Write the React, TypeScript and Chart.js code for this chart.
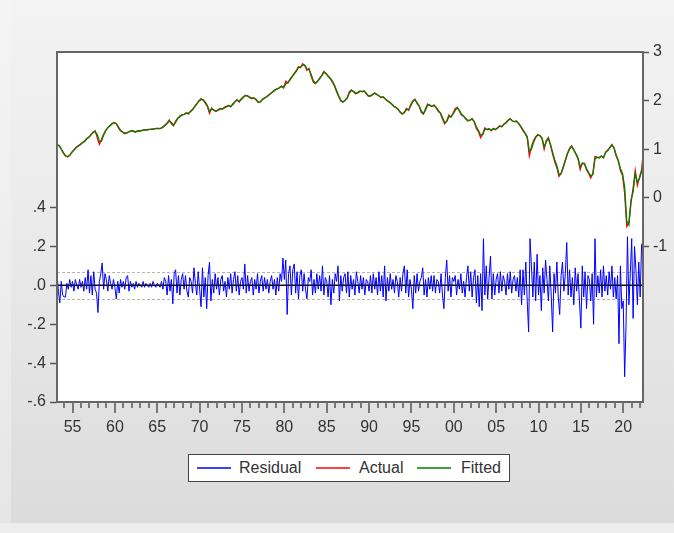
import React, { useEffect, useRef } from "react";
import { Chart, registerables } from "chart.js";

Chart.register(...registerables);

// ---- time axis ----
const X_MIN = 1953.1667;
const X_MAX = 2022.3333;
const ACTUAL_START = 1953.1667;
const ACTUAL_STEP = 0.25;
const RESID_START = 1953.1667;
const RESID_STEP = 1 / 6;

const YEAR_TICKS = [
  1954, 1955, 1956, 1957, 1958, 1959, 1960, 1961, 1962, 1963, 1964, 1965, 1966, 1967, 1968, 1969,
  1970, 1971, 1972, 1973, 1974, 1975, 1976, 1977, 1978, 1979, 1980, 1981, 1982, 1983, 1984, 1985,
  1986, 1987, 1988, 1989, 1990, 1991, 1992, 1993, 1994, 1995, 1996, 1997, 1998, 1999, 2000, 2001,
  2002, 2003, 2004, 2005, 2006, 2007, 2008, 2009, 2010, 2011, 2012, 2013, 2014, 2015, 2016, 2017,
  2018, 2019, 2020, 2021, 2022,
];
const LABEL_YEARS = [1955, 1960, 1965, 1970, 1975, 1980, 1985, 1990, 1995, 2000, 2005, 2010, 2015, 2020];
const X_LABELS = ["55", "60", "65", "70", "75", "80", "85", "90", "95", "00", "05", "10", "15", "20"];

// ---- value axes ----
const LEFT_MIN = -0.6;
const LEFT_MAX = 1.2;
const LEFT_TICKS = [-0.6, -0.4, -0.2, 0, 0.2, 0.4];
const LEFT_LABELS = ["-.6", "-.4", "-.2", ".0", ".2", ".4"];
const RIGHT_MIN = -4.2;
const RIGHT_MAX = 3;
const RIGHT_TICKS = [-1, 0, 1, 2, 3];
const RIGHT_LABELS = ["-1", "0", "1", "2", "3"];
const SE_BAND = 0.068;

// ---- series (quarterly actual / fitted, right axis) ----
const ACTUAL = [
  1.10, 1.07, 1.00, 0.92,
  0.86, 0.84, 0.88, 0.94,
  0.99, 1.03, 1.07, 1.10,
  1.13, 1.17, 1.21, 1.25,
  1.29, 1.34, 1.38, 1.24,
  1.10, 1.20, 1.31, 1.39,
  1.44, 1.49, 1.52, 1.55,
  1.52, 1.44, 1.38, 1.35,
  1.32, 1.34, 1.36, 1.38,
  1.37, 1.35, 1.38, 1.37,
  1.39, 1.40, 1.39, 1.41,
  1.41, 1.42, 1.42, 1.43,
  1.42, 1.43, 1.46, 1.50,
  1.54, 1.60, 1.52, 1.48,
  1.58, 1.64, 1.68, 1.70,
  1.72, 1.75, 1.72, 1.78,
  1.82, 1.88, 1.94, 2.00,
  2.04, 2.01, 1.95, 1.88,
  1.74, 1.85, 1.80, 1.78,
  1.81, 1.84, 1.82, 1.86,
  1.88, 1.90, 1.87, 1.93,
  1.98, 2.02, 1.97, 2.04,
  2.08, 2.11, 2.09, 2.06,
  2.04, 2.06, 2.01, 1.96,
  1.98, 2.03, 2.06, 2.08,
  2.12, 2.15, 2.19, 2.22,
  2.24, 2.27, 2.30, 2.26,
  2.40, 2.36, 2.44, 2.50,
  2.56, 2.62, 2.70, 2.68,
  2.76, 2.72, 2.62, 2.66,
  2.50, 2.38, 2.35, 2.40,
  2.46, 2.52, 2.60, 2.55,
  2.50, 2.45, 2.38, 2.30,
  2.18, 2.08, 1.99, 1.97,
  2.01, 2.06, 2.18, 2.22,
  2.18, 2.14, 2.17, 2.20,
  2.18, 2.20, 2.14, 2.09,
  2.10, 2.13, 2.16, 2.12,
  2.10, 2.06, 2.08, 2.03,
  1.99, 1.96, 1.93, 1.88,
  1.86, 1.82, 1.76, 1.72,
  1.76, 1.84, 1.80, 1.92,
  2.00, 2.03, 1.94, 1.88,
  1.76, 1.72, 1.84, 1.93,
  1.90, 1.88, 1.91, 1.85,
  1.78, 1.74, 1.62, 1.52,
  1.58, 1.70, 1.66, 1.74,
  1.84, 1.86, 1.78, 1.70,
  1.68, 1.62, 1.58, 1.60,
  1.63, 1.56, 1.42, 1.36,
  1.24, 1.32, 1.44, 1.40,
  1.42, 1.38, 1.43, 1.40,
  1.44, 1.48, 1.46, 1.52,
  1.55, 1.60, 1.63, 1.58,
  1.57, 1.58, 1.52, 1.46,
  1.38, 1.32, 1.24, 0.86,
  1.05, 1.18, 1.26, 1.30,
  1.28, 1.22, 1.00, 1.18,
  1.24, 1.08, 0.90, 0.74,
  0.62, 0.44, 0.50, 0.64,
  0.78, 0.92, 1.02, 1.07,
  0.98, 0.90, 0.80, 0.58,
  0.72, 0.70, 0.58, 0.50,
  0.41, 0.50, 0.85, 0.84,
  0.82, 0.86, 0.82, 0.94,
  0.98, 1.04, 1.10, 1.02,
  0.86, 0.76, 0.56, 0.46,
  0.10, -0.59, -0.52, -0.10,
  0.20, 0.56, 0.26, 0.42,
  0.58, 1.02,
];

const FITTED = [
  1.08, 1.08, 1.01, 0.93,
  0.87, 0.85, 0.87, 0.93,
  0.98, 1.04, 1.06, 1.09,
  1.14, 1.16, 1.22, 1.24,
  1.30, 1.35, 1.36, 1.30,
  1.16, 1.16, 1.29, 1.38,
  1.45, 1.48, 1.53, 1.54,
  1.53, 1.46, 1.39, 1.35,
  1.33, 1.33, 1.36, 1.37,
  1.38, 1.35, 1.37, 1.38,
  1.38, 1.40, 1.40, 1.40,
  1.41, 1.41, 1.42, 1.43,
  1.43, 1.43, 1.45, 1.49,
  1.53, 1.58, 1.55, 1.50,
  1.55, 1.63, 1.67, 1.71,
  1.71, 1.74, 1.74, 1.77,
  1.81, 1.87, 1.93, 1.99,
  2.02, 2.02, 1.97, 1.90,
  1.78, 1.82, 1.81, 1.78,
  1.80, 1.83, 1.83, 1.85,
  1.87, 1.90, 1.88, 1.92,
  1.97, 2.01, 1.99, 2.02,
  2.07, 2.10, 2.10, 2.07,
  2.05, 2.05, 2.03, 1.97,
  1.97, 2.02, 2.05, 2.08,
  2.11, 2.15, 2.18, 2.22,
  2.24, 2.26, 2.29, 2.28,
  2.34, 2.38, 2.42, 2.49,
  2.55, 2.60, 2.68, 2.69,
  2.73, 2.73, 2.65, 2.64,
  2.54, 2.41, 2.36, 2.39,
  2.45, 2.51, 2.58, 2.56,
  2.51, 2.46, 2.40, 2.32,
  2.21, 2.10, 2.01, 1.97,
  2.00, 2.05, 2.15, 2.21,
  2.19, 2.15, 2.16, 2.19,
  2.19, 2.19, 2.15, 2.10,
  2.09, 2.12, 2.15, 2.13,
  2.10, 2.07, 2.07, 2.04,
  2.00, 1.97, 1.93, 1.89,
  1.86, 1.83, 1.77, 1.73,
  1.75, 1.82, 1.81, 1.89,
  1.98, 2.02, 1.96, 1.89,
  1.79, 1.73, 1.81, 1.91,
  1.91, 1.88, 1.90, 1.86,
  1.80, 1.75, 1.65, 1.55,
  1.57, 1.67, 1.67, 1.72,
  1.80, 1.85, 1.80, 1.72,
  1.68, 1.63, 1.59, 1.60,
  1.62, 1.57, 1.46, 1.38,
  1.29, 1.30, 1.41, 1.41,
  1.42, 1.39, 1.42, 1.41,
  1.43, 1.47, 1.47, 1.51,
  1.54, 1.59, 1.62, 1.58,
  1.57, 1.57, 1.53, 1.47,
  1.40, 1.33, 1.26, 0.96,
  1.00, 1.14, 1.24, 1.29,
  1.28, 1.23, 1.05, 1.15,
  1.22, 1.10, 0.94, 0.78,
  0.66, 0.48, 0.50, 0.62,
  0.76, 0.90, 1.00, 1.06,
  0.99, 0.91, 0.82, 0.64,
  0.70, 0.71, 0.60, 0.52,
  0.45, 0.48, 0.80, 0.83,
  0.83, 0.86, 0.83, 0.93,
  0.97, 1.03, 1.08, 1.03,
  0.88, 0.77, 0.60, 0.50,
  0.22, -0.48, -0.56, -0.04,
  0.12, 0.50, 0.32, 0.40,
  0.54, 0.84,
];

// ---- residual (bi-monthly, left axis) ----
const RESIDUAL = [
  0.06, -0.03, -0.09, 0.02, -0.05, -0.06,
  -0.06, 0.01, -0.02, 0.03, -0.01, 0.02,
  -0.03, 0.03, 0.00, -0.02, 0.03, -0.01,
  0.02, -0.03, 0.04, -0.02, 0.08, -0.04,
  0.05, -0.05, 0.07, -0.02, -0.04, -0.14,
  0.02, 0.06, 0.115, -0.02, 0.06, 0.03,
  -0.03, 0.05, 0.01, -0.02, 0.03, -0.01,
  -0.07, 0.02, -0.04, 0.03, -0.01, 0.02,
  -0.02, 0.04, 0.05, -0.03, 0.02, -0.01,
  0.01, -0.02, 0.02, -0.01, 0.01, 0.00,
  -0.01, 0.02, -0.01, 0.01, 0.00, -0.01,
  0.01, -0.01, 0.02, 0.00, -0.01, 0.01,
  0.00, -0.01, 0.02, -0.02, 0.04, 0.02,
  -0.05, 0.05, -0.03, 0.03, -0.095, 0.06,
  0.08, -0.04, 0.05, -0.05, 0.03, 0.06,
  -0.02, 0.05, -0.03, -0.06, 0.04, 0.02,
  -0.04, 0.09, 0.01, -0.05, 0.07, -0.02,
  -0.11, 0.09, -0.06, 0.04, -0.12, 0.05,
  0.12, -0.08, 0.03, -0.04, 0.06, -0.02,
  0.04, -0.05, 0.03, 0.05, -0.03, 0.02,
  -0.06, 0.04, -0.02, 0.06, -0.04, 0.03,
  0.07, -0.03, 0.05, -0.05, 0.02, 0.04,
  -0.02, 0.11, -0.04, 0.05, -0.03, 0.02,
  0.04, -0.05, 0.03, -0.02, 0.06, -0.04,
  0.02, 0.05, -0.03, 0.04, -0.02, 0.03,
  -0.04, 0.02, 0.05, -0.02, 0.03, -0.05,
  0.04, -0.03, 0.06, 0.02, 0.14, 0.03,
  0.13, -0.15, 0.06, 0.10, -0.05, 0.08,
  0.11, -0.04, 0.07, -0.07, 0.05, 0.08,
  -0.03, 0.06, -0.02, -0.07, 0.04, 0.02,
  0.08, -0.05, 0.03, -0.04, 0.06, -0.02,
  0.05, -0.03, 0.10, -0.05, 0.04, 0.02,
  -0.06, 0.05, -0.10, 0.03, -0.04, 0.06,
  0.02, 0.10, -0.08, 0.05, -0.03, 0.04,
  0.06, -0.04, 0.07, -0.06, 0.05, -0.02,
  0.03, -0.05, 0.07, 0.02, -0.04, 0.05,
  -0.02, 0.04, -0.05, 0.03, 0.02, -0.03,
  0.05, -0.04, 0.06, -0.02, 0.04, -0.05,
  0.07, -0.03, 0.05, -0.06, 0.10, -0.08,
  0.04, -0.03, 0.06, -0.02, 0.03, -0.04,
  0.05, 0.02, -0.06, 0.04, -0.03, 0.06,
  0.10, -0.04, 0.08, -0.06, 0.03, -0.02,
  -0.12, 0.05, -0.04, 0.06, -0.03, 0.02,
  0.04, 0.09, -0.05, 0.03, -0.06, 0.04,
  -0.02, 0.05, -0.03, 0.05, -0.04, 0.03,
  0.02, -0.04, 0.06, -0.05, -0.12, 0.04,
  0.13, -0.03, 0.05, -0.06, 0.04, 0.02,
  0.05, -0.05, 0.03, -0.02, 0.06, -0.04,
  0.02, -0.06, 0.04, 0.10, -0.03, 0.07,
  -0.06, 0.04, 0.08, -0.09, 0.05, -0.11,
  0.06, -0.13, 0.24, -0.05, 0.10, -0.07,
  0.04, 0.15, -0.07, 0.06, -0.05, 0.03,
  0.06, -0.04, 0.07, -0.03, 0.05, 0.02,
  -0.05, 0.06, -0.02, 0.07, -0.04, 0.03,
  0.05, -0.03, 0.04, -0.06, 0.08, -0.10,
  0.08, -0.05, 0.12, -0.08, -0.24, 0.24,
  0.10, -0.06, 0.12, -0.08, 0.16, -0.05,
  0.05, -0.13, 0.09, -0.04, 0.13, 0.03,
  -0.08, 0.10, -0.05, -0.24, 0.06, -0.04,
  0.12, -0.06, -0.15, 0.05, 0.12, -0.03,
  0.06, 0.22, -0.05, 0.08, -0.06, 0.04,
  -0.10, 0.09, -0.03, 0.06, -0.08, -0.22,
  0.10, -0.06, 0.07, -0.12, 0.05, 0.03,
  -0.08, 0.06, -0.20, 0.24, -0.06, 0.05,
  -0.04, 0.08, -0.06, 0.10, -0.03, 0.05,
  -0.05, 0.07, -0.02, 0.10, -0.06, 0.04,
  -0.07, 0.05, -0.30, 0.10, -0.12, -0.08,
  -0.47, -0.20, 0.25, -0.10, 0.06, 0.24,
  -0.17, 0.20, 0.08, -0.10, 0.12, -0.06,
  0.21, 0.22,
];

const SERIES_NAMES = ["Residual", "Actual", "Fitted"];
const SERIES_COLORS = ["#0000ff", "#ff0000", "#008000"];

const FONT = '"Liberation Sans", Arial, Helvetica, sans-serif';
const TEXT_COLOR = "#333";

const eviewsPlugin = {
  id: "eviewsFrame",
  beforeDraw(chart: any) {
    const { ctx, chartArea: a } = chart;
    ctx.save();
    ctx.fillStyle = "#ffffff";
    ctx.fillRect(a.left, a.top, a.right - a.left, a.bottom - a.top);
    ctx.restore();
  },
  beforeDatasetsDraw(chart: any) {
    const { ctx, chartArea: a, scales } = chart;
    const yl = scales.yL;
    ctx.save();
    ctx.strokeStyle = "#b4b4b4";
    ctx.lineWidth = 1;
    ctx.setLineDash([3, 2]);
    [SE_BAND, -SE_BAND].forEach((v) => {
      const py = Math.round(yl.getPixelForValue(v)) + 0.5;
      ctx.beginPath();
      ctx.moveTo(a.left, py);
      ctx.lineTo(a.right, py);
      ctx.stroke();
    });
    ctx.restore();
  },
  afterDatasetsDraw(chart: any) {
    const { ctx, chartArea: a, scales } = chart;
    const yl = scales.yL;
    const py = yl.getPixelForValue(0);
    ctx.save();
    ctx.strokeStyle = "#101030";
    ctx.lineWidth = 1.5;
    ctx.beginPath();
    ctx.moveTo(a.left, py);
    ctx.lineTo(a.right, py);
    ctx.stroke();
    ctx.restore();
  },
  afterDraw(chart: any) {
    const { ctx, chartArea: a, scales } = chart;
    ctx.save();
    ctx.strokeStyle = "#666";
    ctx.lineWidth = 2;
    ctx.strokeRect(a.left, a.top, a.right - a.left, a.bottom - a.top);
    const xs = scales.x;
    ctx.strokeStyle = "#555";
    ctx.lineWidth = 1.5;
    YEAR_TICKS.forEach((yr) => {
      const px = Math.round(xs.getPixelForValue(yr));
      const len = LABEL_YEARS.includes(yr) ? 10 : 5;
      ctx.beginPath();
      ctx.moveTo(px, a.bottom + 1);
      ctx.lineTo(px, a.bottom + 1 + len);
      ctx.stroke();
    });
    ctx.restore();
  },
};

export default function App() {
  const canvasRef = useRef<HTMLCanvasElement | null>(null);

  useEffect(() => {
    if (!canvasRef.current) return;
    const actualPts = ACTUAL.map((v, i) => ({ x: ACTUAL_START + i * ACTUAL_STEP, y: v }));
    const fittedPts = FITTED.map((v, i) => ({ x: ACTUAL_START + i * ACTUAL_STEP, y: v }));
    const residPts = RESIDUAL.map((v, i) => ({ x: RESID_START + i * RESID_STEP, y: v }));

    const tickFont = { family: FONT, size: 16 };

    const chart = new Chart(canvasRef.current, {
      type: "line",
      data: {
        datasets: [
          {
            label: SERIES_NAMES[0],
            data: residPts,
            yAxisID: "yL",
            borderColor: SERIES_COLORS[0],
            borderWidth: 1,
            pointRadius: 0,
            tension: 0,
          },
          {
            label: SERIES_NAMES[2],
            data: fittedPts,
            yAxisID: "yR",
            borderColor: SERIES_COLORS[2],
            borderWidth: 1.3,
            pointRadius: 0,
            tension: 0,
          },
          {
            label: SERIES_NAMES[1],
            data: actualPts,
            yAxisID: "yR",
            borderColor: SERIES_COLORS[1],
            borderWidth: 1.3,
            pointRadius: 0,
            tension: 0,
          },
        ],
      },
      options: {
        responsive: false,
        maintainAspectRatio: false,
        animation: false,
        devicePixelRatio: 1,
        layout: { padding: { top: 52, left: 0, right: 0, bottom: 0 } },
        plugins: { legend: { display: false }, tooltip: { enabled: false } },
        scales: {
          x: {
            type: "linear",
            min: X_MIN,
            max: X_MAX,
            afterBuildTicks: (s: any) => {
              s.ticks = YEAR_TICKS.map((v) => ({ value: v }));
            },
            afterFit: (s: any) => {
              s.height = 131;
            },
            ticks: {
              autoSkip: false,
              minRotation: 0,
              maxRotation: 0,
              padding: 7,
              font: tickFont,
              color: TEXT_COLOR,
              callback: (v: any) => {
                const i = LABEL_YEARS.indexOf(Number(v));
                return i >= 0 ? X_LABELS[i] : "";
              },
            },
            grid: {
              display: true,
              drawOnChartArea: false,
              drawTicks: true,
              tickLength: 9,
              tickColor: "rgba(0,0,0,0)",
            },
            border: { display: false },
          },
          yL: {
            type: "linear",
            position: "left",
            min: LEFT_MIN,
            max: LEFT_MAX,
            afterBuildTicks: (s: any) => {
              s.ticks = LEFT_TICKS.map((v) => ({ value: v }));
            },
            afterFit: (s: any) => {
              s.width = 57;
            },
            ticks: {
              padding: 4,
              font: tickFont,
              color: TEXT_COLOR,
              callback: (v: any) => {
                const i = LEFT_TICKS.findIndex((t) => Math.abs(t - Number(v)) < 1e-9);
                return i >= 0 ? LEFT_LABELS[i] : "";
              },
            },
            grid: {
              display: true,
              drawOnChartArea: false,
              drawTicks: true,
              tickLength: 7,
              tickColor: "#555",
              tickWidth: 1.5,
            },
            border: { display: false },
          },
          yR: {
            type: "linear",
            position: "right",
            min: RIGHT_MIN,
            max: RIGHT_MAX,
            afterBuildTicks: (s: any) => {
              s.ticks = RIGHT_TICKS.map((v) => ({ value: v }));
            },
            afterFit: (s: any) => {
              s.width = 31;
            },
            ticks: {
              padding: 4,
              font: tickFont,
              color: TEXT_COLOR,
              callback: (v: any) => {
                const i = RIGHT_TICKS.indexOf(Number(v));
                return i >= 0 ? RIGHT_LABELS[i] : "";
              },
            },
            grid: {
              display: true,
              drawOnChartArea: false,
              drawTicks: true,
              tickLength: 6,
              tickColor: "#555",
              tickWidth: 1.5,
            },
            border: { display: false },
          },
        },
      },
      plugins: [eviewsPlugin],
    } as any);

    return () => chart.destroy();
  }, []);

  const legendLine = (left: number, color: string) => (
    <div
      style={{
        position: "absolute",
        left,
        top: 12,
        width: 34,
        height: 2,
        background: color,
        opacity: 0.75,
      }}
    />
  );
  const legendText = (left: number, text: string) => (
    <span
      style={{
        position: "absolute",
        left,
        top: 0,
        height: 26,
        lineHeight: "26px",
        fontFamily: FONT,
        fontSize: 16,
        color: TEXT_COLOR,
        whiteSpace: "nowrap",
      }}
    >
      {text}
    </span>
  );

  return (
    <div
      style={{
        position: "absolute",
        left: 0,
        top: 0,
        width: 674,
        height: 533,
        overflow: "hidden",
        background: "linear-gradient(to bottom, #f3f3f3 0%, #ebebeb 40%, #dbdbdb 100%)",
      }}
    >
      <div
        style={{
          position: "absolute",
          left: 0,
          top: 0,
          width: 11,
          height: 523,
          background: "linear-gradient(to bottom, #f4f4f4 0%, #efefef 40%, #e6e6e6 100%)",
        }}
      />
      <div
        style={{
          position: "absolute",
          left: 0,
          top: 523,
          width: 674,
          height: 10,
          background: "#ededed",
        }}
      />
      <canvas
        ref={canvasRef}
        width={674}
        height={533}
        style={{ position: "absolute", left: 0, top: 0, display: "block", width: 674, height: 533 }}
      />
      <div
        style={{
          position: "absolute",
          left: 188,
          top: 454,
          width: 320,
          height: 26,
          background: "#ffffff",
          border: "1.5px solid #444",
        }}
      >
        {legendLine(8, SERIES_COLORS[0])}
        {legendText(50, SERIES_NAMES[0])}
        {legendLine(127, SERIES_COLORS[1])}
        {legendText(170, SERIES_NAMES[1])}
        {legendLine(228, SERIES_COLORS[2])}
        {legendText(272, SERIES_NAMES[2])}
      </div>
    </div>
  );
}
